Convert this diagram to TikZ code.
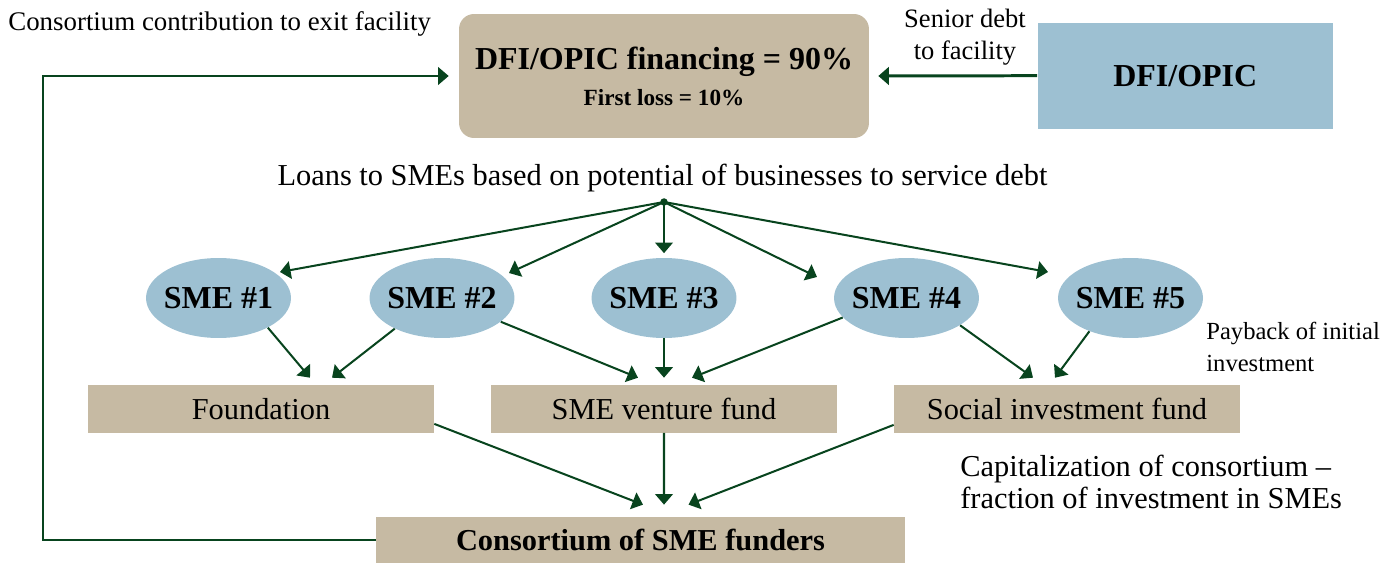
\documentclass[tikz,border=0pt]{standalone}
\usepackage{fontspec}
\setmainfont{Liberation Serif}
\usetikzlibrary{arrows.meta,shapes.geometric,calc}

\definecolor{tanbox}{RGB}{198,186,163}
\definecolor{smeblue}{RGB}{157,192,210}
\definecolor{arrowgreen}{RGB}{8,68,30}

\begin{document}
\begin{tikzpicture}[x=0.02cm,y=-0.02cm,
  fund/.style={fill=tanbox, minimum width=6.92cm, minimum height=0.95cm, inner sep=0pt, font=\fontsize{17.3}{20}\selectfont},
  sme/.style={ellipse, fill=smeblue, minimum width=2.9cm, minimum height=1.6cm, inner sep=0pt, font=\fontsize{18.2}{22}\selectfont\bfseries},
  note/.style={inner sep=0pt},
  link/.style={draw=arrowgreen, line width=1.15pt, -{Triangle[length=6pt,width=10pt]}}]
\useasboundingbox (0,0) rectangle (1396,563);

% boxes at the top
\node[fill=tanbox, rounded corners=0.3cm, minimum width=8.2cm, minimum height=2.48cm, inner sep=0pt, align=center, font=\fontsize{13.2}{20.5}\selectfont\bfseries] (facility) at (664,76)
  {{\fontsize{18.2}{22}\selectfont DFI/OPIC financing = 90\%}\\First loss = 10\%};
\node[fill=smeblue, minimum width=5.91cm, minimum height=2.12cm, inner sep=0pt, font=\fontsize{18.2}{22}\selectfont\bfseries] (dfi) at (1185.3,75.7) {DFI/OPIC};

% SMEs
\node[circle, fill=arrowgreen, minimum size=0.15cm, inner sep=0pt] (hub) at (664,202) {};
\foreach \n/\x in {1/218.5,2/442,3/664,4/906.5,5/1130.5}
  \node[sme] (sme\n) at (\x,298) {\makebox[0pt]{SME \#\n}};

% funds
\node[fund] (found) at (261,408.8) {Foundation};
\node[fund] (venture) at (664,408.8) {SME venture fund};
\node[fund] (social) at (1067,408.8) {Social investment fund};
\node[fund, minimum width=10.58cm, minimum height=0.92cm, font=\fontsize{17.3}{20}\selectfont\bfseries] (consort) at (640.5,540) {Consortium of SME funders};

% labels
\node[note, anchor=base west, font=\fontsize{15.3}{18}\selectfont] (exitlabel) at (8,31) {Consortium contribution to exit facility};
\node[note, align=center, font=\fontsize{15.1}{18.2}\selectfont] (seniorlabel) at (965,37) {Senior debt\\to facility};
\node[note, anchor=base, font=\fontsize{17.3}{20}\selectfont] (loanlabel) at (662.5,186) {Loans to SMEs based on potential of businesses to service debt};
\node[note, anchor=west, align=left, font=\fontsize{14}{18.2}\selectfont] (paylabel) at (1206,347) {Payback of initial\\investment};
\node[note, anchor=west, align=left, font=\fontsize{17.3}{18.2}\selectfont] (caplabel) at (960,482) {Capitalization of consortium –\\fraction of investment in SMEs};

% arrows
\draw[link, line width=1.7pt] (dfi.west) -- ($(facility.east)+(9,0)$);
\draw[link] (consort.west) -- ++(-333,0) |- ($(facility.west)+(-10,0)$);

\draw[link] (hub.center) -- ($(sme1)+(61.5,-26)$);
\draw[link] (hub.center) -- ($(sme2)+(67,-25)$);
\draw[link] (hub.center) -- ($(sme3.north)+(0,-4.5)$);
\draw[link] (hub.center) -- ($(sme4)+(-89.5,-21)$);
\draw[link] (hub.center) -- ($(sme5)+(-82.5,-26)$);

\draw[link] (sme1.-31) -- ($(found.north)+(49,-7)$);
\draw[link] (sme2.-147) -- ($(found.north)+(71,-7)$);
\draw[link] (sme2.-22.5) -- ($(venture.north)+(-26,-7)$);
\draw[link] (sme3.south) -- ($(venture.north)+(0,-7)$);
\draw[link] (sme4.-163) -- ($(venture.north)+(28,-7)$);
\draw[link] (sme4.-27) -- ($(social.north)+(-34,-7)$);
\draw[link] (sme5.-141) -- ($(social.north)+(-12,-7)$);

\draw[link] ($(found.south east)+(0,-9)$) -- ($(consort.north)+(2.5,-12)$);
\draw[link] (venture.south) -- ($(consort.north)+(23.5,-12)$);
\draw[link] ($(social.south west)+(0,-8)$) -- ($(consort.north)+(48,-12)$);
\end{tikzpicture}
\end{document}
